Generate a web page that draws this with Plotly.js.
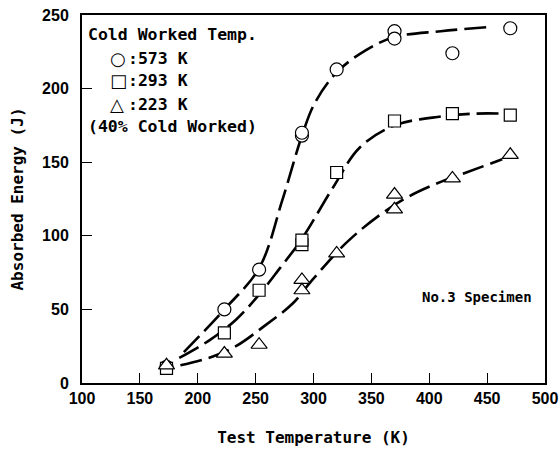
<!DOCTYPE html>
<html>
<head>
<meta charset="utf-8">
<script src="https://cdn.plot.ly/plotly-3.0.1.min.js"></script>
<style>html,body{margin:0;padding:0;background:#fff;}#chart{width:560px;height:457px;}</style>
</head>
<body>
<div id="chart"></div>
<script>
// Measured points (Test temperature K, absorbed energy J)
const t573X = [173, 223, 253, 290, 290, 320, 370, 370, 420, 470];
const t573Y = [11, 50, 77, 168, 170, 213, 239, 234, 224, 241];
const t293X = [173, 223, 253, 290, 290, 320, 370, 420, 470];
const t293Y = [10, 34, 63, 94, 97, 143, 178, 183, 182];
const t223X = [173, 223, 253, 290, 290, 320, 370, 370, 420, 470];
const t223Y = [12, 20, 26, 70, 63, 88, 128, 118, 139, 155];

// Hand-drawn trend curves
const c573X = [188, 223, 253, 273, 290, 301, 320, 345, 370, 410, 455];
const c573Y = [21, 50, 78, 124, 168, 190, 211, 226, 235, 239, 242];
const c293X = [184, 210, 233, 253, 270, 290, 317, 340, 370, 410, 440, 465];
const c293Y = [17, 29, 43, 60, 77, 98, 133, 160, 175, 181, 183, 183];
const c223X = [185, 213, 233, 258, 282, 299, 328, 357, 383, 411, 432, 463];
const c223Y = [12, 18, 25, 39, 54, 70, 95, 114, 127, 137, 143, 152];

const xTicks = [100, 150, 200, 250, 300, 350, 400, 450, 500];
const yTicks = [0, 50, 100, 150, 200, 250];

const legendHead = ["Cold Worked Temp.", "(40% Cold Worked)"];
const legendSymbols = ["\u25CB", "\u25A1", "\u25B3"];
const legendLabels = [":573 K", ":293 K", ":223 K"];
const noteText = "No.3 Specimen";

const mono = "DejaVu Sans Mono";
const lineStyle = {color: "#000", width: 2.6, dash: "22px,7px", shape: "spline", smoothing: 1};

function curve(x, y) {
  return {x: x, y: y, mode: "lines", line: lineStyle, hoverinfo: "skip", showlegend: false};
}
function pts(x, y, sym, size) {
  return {x: x, y: y, mode: "markers", showlegend: false,
    marker: {symbol: sym, size: size, color: "#fff", line: {color: "#000", width: 1.2}}};
}

const data = [
  curve(c573X, c573Y), curve(c293X, c293Y), curve(c223X, c223Y),
  pts(t573X, t573Y, "circle", 13),
  pts(t293X, t293Y, "square", 12),
  pts(t223X, t223Y, "triangle-up", 14)
];

const tickFont = {family: "Liberation Sans Narrow, Liberation Sans, Arial", size: 16, color: "#000", weight: "bold"};
const titleFont = {family: mono, size: 16, color: "#000", weight: "bold"};
const legFont = {family: mono, size: 16.5, color: "#000", weight: "bold"};

const annotations = [];
const headY = [0.946, 0.696];
legendHead.forEach((t, i) => annotations.push({
  text: t, xref: "paper", yref: "paper", x: 0.008, y: headY[i],
  xanchor: "left", yanchor: "middle", showarrow: false, font: legFont}));
const itemY = [0.883, 0.8207, 0.758];
legendSymbols.forEach((s, i) => {
  annotations.push({text: s, xref: "paper", yref: "paper", x: 0.0565, y: itemY[i],
    xanchor: "left", yanchor: "middle", showarrow: false,
    font: {family: "DejaVu Sans", size: 18, color: "#000"}});
  annotations.push({text: legendLabels[i], xref: "paper", yref: "paper", x: 0.094, y: itemY[i],
    xanchor: "left", yanchor: "middle", showarrow: false, font: legFont});
});
annotations.push({text: noteText, xref: "paper", yref: "paper", x: 0.853, y: 0.234,
  xanchor: "center", yanchor: "middle", showarrow: false,
  font: {family: mono, size: 14, color: "#000", weight: "bold"}});

const layout = {
  width: 560, height: 457,
  margin: {l: 82, r: 15, t: 15, b: 74},
  paper_bgcolor: "#fff", plot_bgcolor: "#fff",
  showlegend: false,
  xaxis: {
    range: [100, 500], tickvals: xTicks, ticktext: xTicks.map(String),
    ticks: "inside", ticklen: 10, tickwidth: 1.2, tickcolor: "#000",
    showline: true, linecolor: "#000", linewidth: 2, mirror: true,
    showgrid: false, zeroline: false, tickfont: tickFont,
    title: {text: "Test Temperature (K)", font: titleFont, standoff: 26}
  },
  yaxis: {
    range: [0, 250], tickvals: yTicks, ticktext: yTicks.map(String),
    ticks: "inside", ticklen: 10, tickwidth: 1.2, tickcolor: "#000",
    showline: true, linecolor: "#000", linewidth: 2, mirror: true,
    showgrid: false, zeroline: false, tickfont: tickFont, ticklabelstandoff: 8,
    title: {text: "Absorbed Energy (J)", font: titleFont, standoff: 14}
  },
  annotations: annotations
};

Plotly.newPlot("chart", data, layout, {staticPlot: true, displayModeBar: false});
</script>
</body>
</html>
